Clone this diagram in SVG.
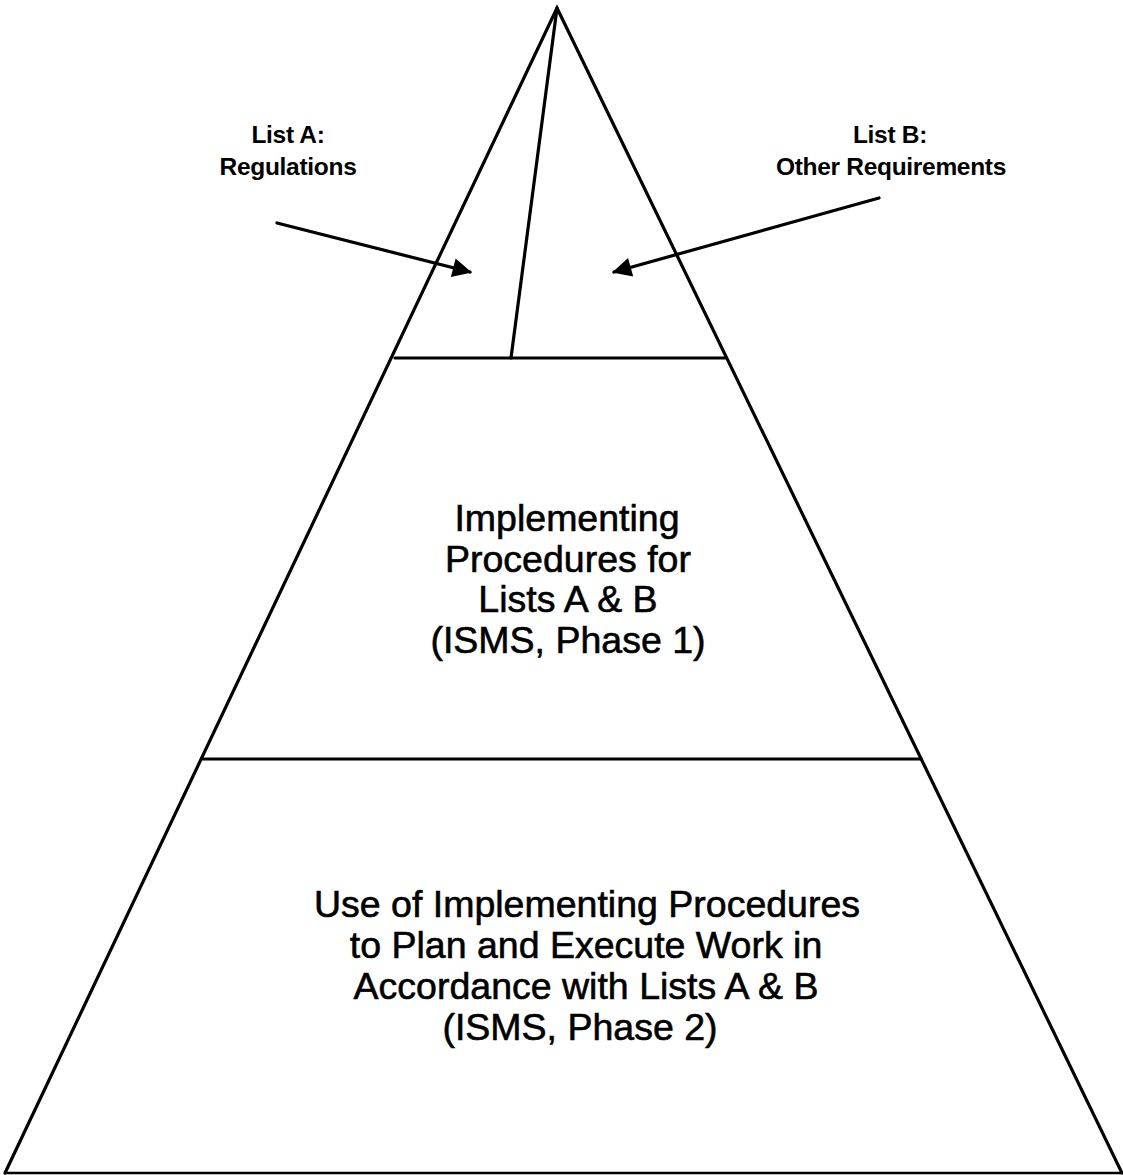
<svg xmlns="http://www.w3.org/2000/svg" width="1123" height="1175" viewBox="0 0 1123 1175">
<defs>
<style>
.ln{stroke:#000;stroke-width:3.2;fill:none;stroke-linecap:round}
.thin{stroke:#000;stroke-width:2.5;fill:none}
.lbl{font-family:"Liberation Sans",Arial,sans-serif;font-weight:bold;font-size:24.5px;fill:#000;text-anchor:middle;letter-spacing:-0.3px}
.big{font-family:"Liberation Sans",Arial,sans-serif;font-size:37.5px;fill:#000;text-anchor:middle;stroke:#000;stroke-width:0.6}
</style>
<marker id="ah" viewBox="0 0 10 10" refX="9" refY="5" markerWidth="7" markerHeight="6" orient="auto" markerUnits="strokeWidth">
<path d="M0,0 L10,5 L0,10 Z" fill="#000"/>
</marker>
</defs>
<rect width="1123" height="1175" fill="#fff"/>
<g id="pyramid">
<path class="ln" d="M5,1173 L557,8 L1122,1173"/>
<line class="thin" x1="5" y1="1173" x2="1122" y2="1173"/>
</g>
<g id="top-section">
<line class="ln" x1="557" y1="8" x2="511" y2="358"/>
<line class="ln" x1="395" y1="358" x2="725" y2="358"/>
</g>
<g id="middle-section">
<line class="ln" x1="203" y1="759" x2="921" y2="759"/>
<text class="big" x="567" y="531">Implementing</text>
<text class="big" x="568" y="572">Procedures for</text>
<text class="big" x="568" y="612">Lists A &amp; B</text>
<text class="big" x="568" y="653">(ISMS, Phase 1)</text>
</g>
<g id="bottom-section">
<text class="big" x="587" y="917">Use of Implementing Procedures</text>
<text class="big" x="586" y="958">to Plan and Execute Work in</text>
<text class="big" x="586" y="999">Accordance with Lists A &amp; B</text>
<text class="big" x="580" y="1040">(ISMS, Phase 2)</text>
</g>
<g id="list-a">
<text class="lbl" x="288" y="143">List A:</text>
<text class="lbl" x="288" y="175">Regulations</text>
</g>
<g id="list-b">
<text class="lbl" x="890" y="143">List B:</text>
<text class="lbl" x="891" y="175">Other Requirements</text>
</g>
<g id="connectors">
<line class="ln" x1="277" y1="223" x2="470" y2="272" marker-end="url(#ah)"/>
<line class="ln" x1="879" y1="198" x2="614" y2="272" marker-end="url(#ah)"/>
</g>
</svg>
